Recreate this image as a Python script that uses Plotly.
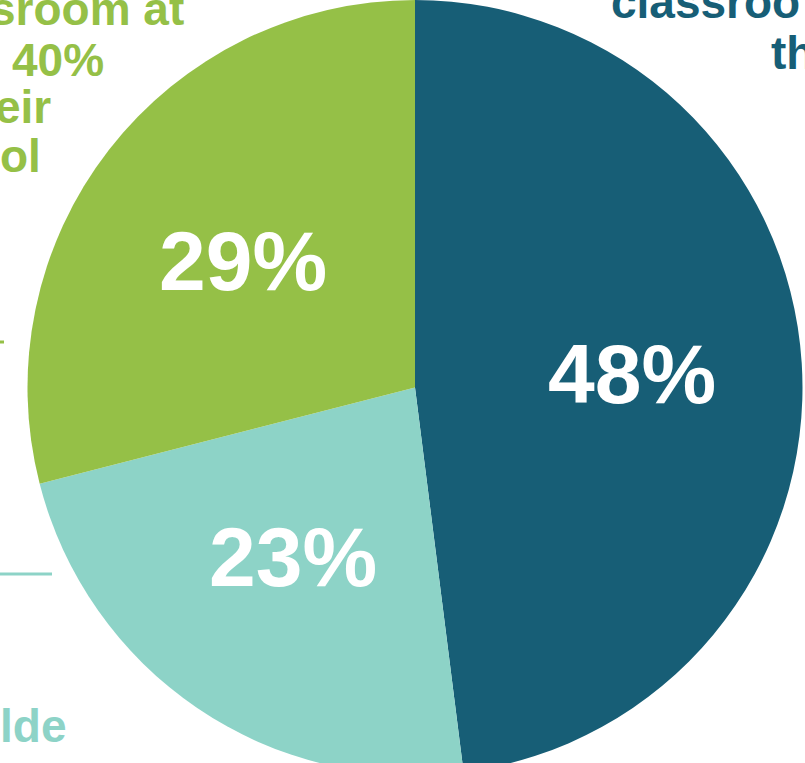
import math
import plotly.graph_objects as go

# Data
categories = ["Dark segment", "Light teal segment", "Green segment"]
values = [48, 23, 29]
colors = ["#175E76", "#8DD3C7", "#95C047"]

# Visible (cropped) fragments of outside labels
green_label_lines = ["sroom at", "40%", "eir", "ol"]
dark_label_lines = ["classroo", "th"]
teal_label_lines = ["lde"]

W, H = 805, 775          # page is 763 tall; bottom overflow is hidden
cx, cy = 415.0, 387.5    # pie centre in pixels
r = 387.5

fig = go.Figure()
fig.add_trace(go.Pie(
    labels=categories,
    values=values,
    sort=False,
    direction="clockwise",
    rotation=0,
    marker=dict(colors=colors, line=dict(width=0)),
    textinfo="none",
    showlegend=False,
    hoverinfo="label+value",
    domain=dict(x=[(cx - r) / W, (cx + r) / W], y=[1 - (cy + r) / H, 1 - (cy - r) / H]),
))

ann = []
# percentage labels at each slice's mid-angle
total = sum(values)
rx_lab, ry_lab, frac = 399.0, 378.0, 0.545
cum = 0.0
for v in values:
    mid = (cum + v / 2) / total * 2 * math.pi
    cum += v
    px = cx + frac * rx_lab * math.sin(mid)
    py = 387.0 - frac * ry_lab * math.cos(mid)
    ann.append(dict(x=px / W, y=1 - py / H, xref="paper", yref="paper",
                    text=f"{v}%", showarrow=False, xanchor="center", yanchor="middle",
                    font=dict(color="white", size=84, family="Liberation Sans", weight="bold")))

font_label = dict(family="Liberation Sans", size=46, weight="bold")
desc = 10.5   # offset from text-box bottom to baseline
pad = 3
# green label fragments (right edges, baselines)
g_right = [183, 103, 50, 40]
g_base = [27, 77, 125, 173]
for t, xr, yb in zip(green_label_lines, g_right, g_base):
    ann.append(dict(x=(xr + pad) / W, y=1 - (yb + desc) / H, xref="paper", yref="paper", text=t,
                    showarrow=False, xanchor="right", yanchor="bottom",
                    font=dict(color=colors[2], **font_label)))
# dark label fragments (left edges, baselines)
d_left = [612, 772]
d_base = [20, 70]
for t, xl, yb in zip(dark_label_lines, d_left, d_base):
    ann.append(dict(x=(xl - pad) / W, y=1 - (yb + desc) / H, xref="paper", yref="paper", text=t,
                    showarrow=False, xanchor="left", yanchor="bottom",
                    font=dict(color=colors[0], **font_label)))
for t in teal_label_lines:
    ann.append(dict(x=(65 + pad) / W, y=1 - (743 + desc) / H, xref="paper", yref="paper", text=t,
                    showarrow=False, xanchor="right", yanchor="bottom",
                    font=dict(color=colors[1], **font_label)))

shapes = [
    dict(type="line", xref="paper", yref="paper", x0=0, x1=4 / W, y0=1 - 342 / H, y1=1 - 342 / H,
         line=dict(color=colors[2], width=3)),
    dict(type="line", xref="paper", yref="paper", x0=0, x1=52 / W, y0=1 - 574 / H, y1=1 - 574 / H,
         line=dict(color=colors[1], width=3)),
]

fig.update_layout(
    width=W, height=H,
    margin=dict(l=0, r=0, t=0, b=0),
    paper_bgcolor="white", plot_bgcolor="white",
    annotations=ann, shapes=shapes,
)
fig.write_html(
    "out.html",
    config={"displayModeBar": False},
    post_script="document.body.style.margin='0';document.body.style.overflow='hidden';",
)
